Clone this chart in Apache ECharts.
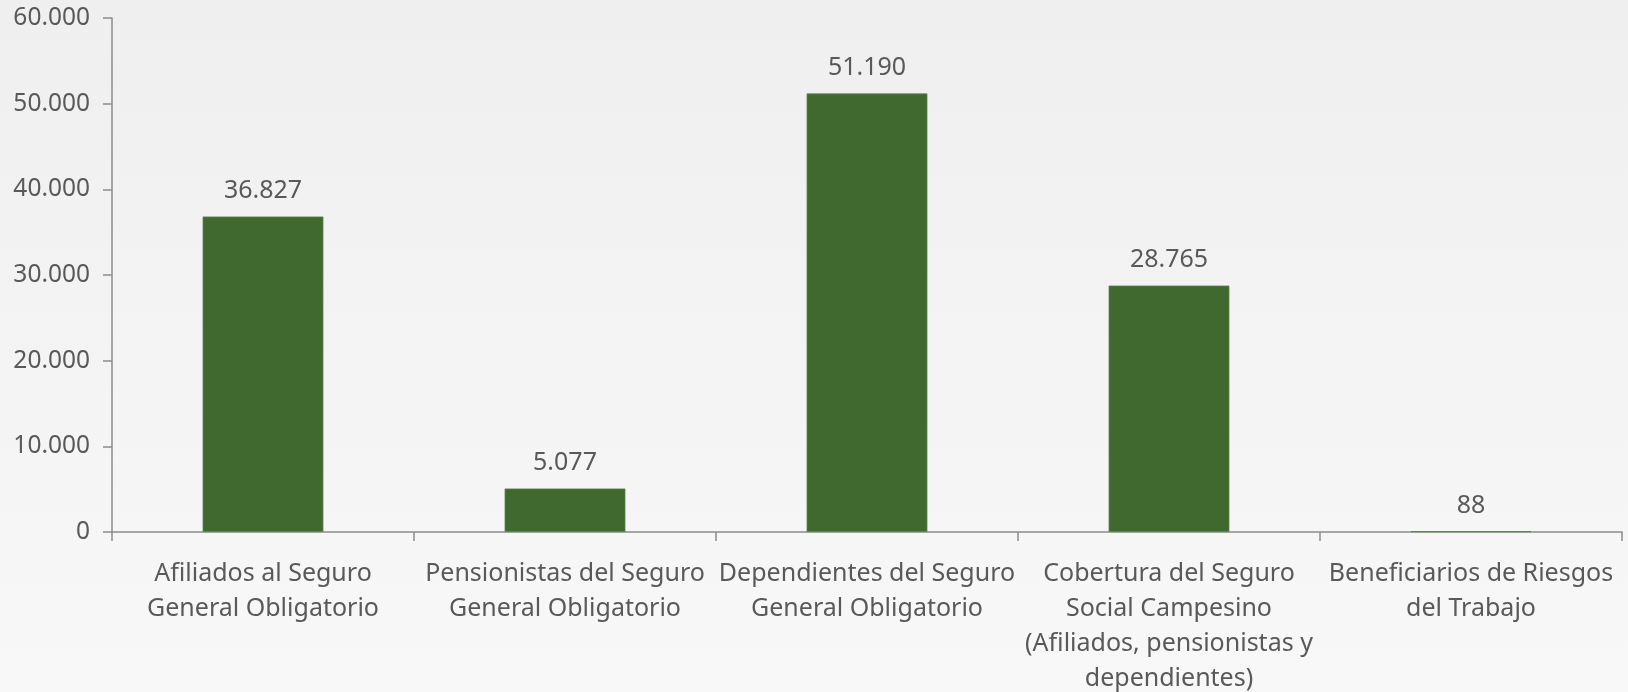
<!DOCTYPE html>
<html>
<head>
<meta charset="utf-8">
<script src="https://cdn.jsdelivr.net/npm/echarts@6/dist/echarts.min.js"></script>
<style>
html,body{margin:0;padding:0;}
#chart{width:1628px;height:692px;}
</style>
</head>
<body>
<div id="chart"></div>
<script>
const categories = [
  "Afiliados al Seguro\nGeneral Obligatorio",
  "Pensionistas del Seguro\nGeneral Obligatorio",
  "Dependientes del Seguro\nGeneral Obligatorio",
  "Cobertura del Seguro\nSocial Campesino\n(Afiliados, pensionistas y\ndependientes)",
  "Beneficiarios de Riesgos\ndel Trabajo"
];
const values = [36827, 5077, 51190, 28765, 88];
const yMin = 0, yMax = 60000, yStep = 10000;

function fmt(v) {
  return String(Math.round(v)).replace(/\B(?=(\d{3})+(?!\d))/g, ".");
}

const chart = echarts.init(document.getElementById('chart'));
chart.setOption({
  backgroundColor: {
    type: 'linear', x: 0, y: 0, x2: 0, y2: 1,
    colorStops: [{offset: 0, color: '#efefef'}, {offset: 1, color: '#f8f8f8'}]
  },
  textStyle: {fontFamily: 'Noto Sans'},
  grid: {left: 112, right: 6, top: 18, bottom: 160, containLabel: false, outerBoundsMode: 'none'},
  xAxis: {
    type: 'category',
    data: categories,
    axisLine: {lineStyle: {color: '#8c8c8c', width: 1.5}},
    axisTick: {show: true, length: 9, lineStyle: {color: '#8c8c8c', width: 1.5}},
    axisLabel: {color: '#595959', fontSize: 25, lineHeight: 35, margin: 24, interval: 0, fontFamily: 'Noto Sans'}
  },
  yAxis: {
    type: 'value',
    min: yMin, max: yMax, interval: yStep,
    splitLine: {show: false},
    axisLine: {show: true, lineStyle: {color: '#8c8c8c', width: 1.5}},
    axisTick: {show: true, length: 9, lineStyle: {color: '#8c8c8c', width: 1.5}},
    axisLabel: {color: '#595959', fontSize: 24.5, margin: 22, formatter: fmt, fontFamily: 'Noto Sans'}
  },
  series: [{
    type: 'bar',
    data: values,
    barCategoryGap: '60%',
    itemStyle: {color: '#40692f', borderColor: '#5f8050', borderWidth: 0.8},
    label: {
      show: true, position: 'top', distance: 13,
      color: '#595959', fontSize: 25, fontFamily: 'Noto Sans',
      formatter: p => fmt(p.value)
    },
    animation: false
  }],
  animation: false
});
</script>
</body>
</html>
